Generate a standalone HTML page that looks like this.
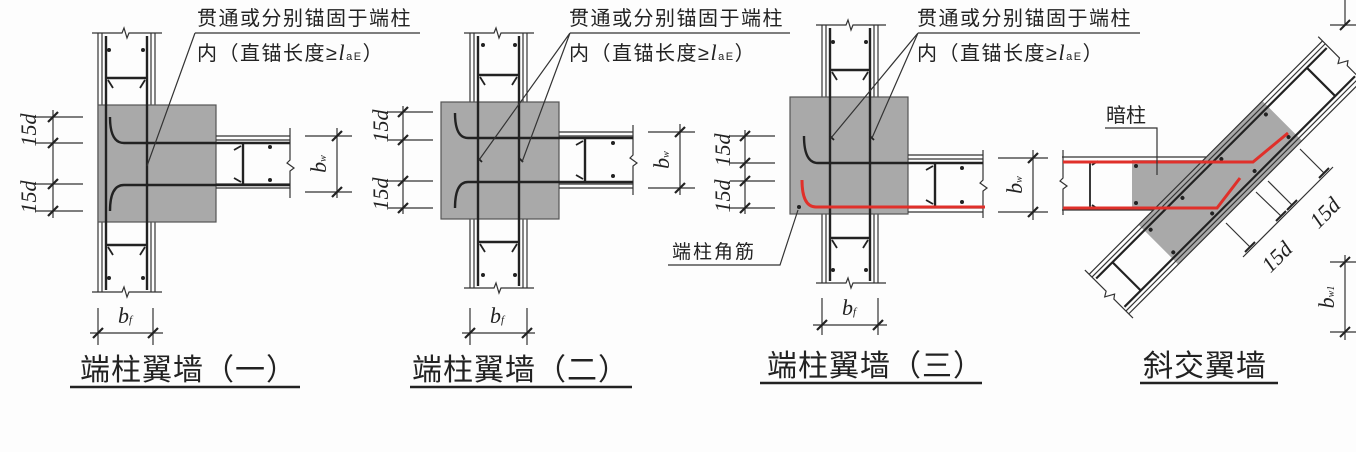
<!DOCTYPE html>
<html><head><meta charset="utf-8"><style>
html,body{margin:0;padding:0;background:#fff}
svg{display:block}
.t{font-family:"Liberation Sans","Noto Sans CJK SC",sans-serif;fill:#222}
.i{font-family:"Liberation Serif",serif;font-style:italic;fill:#222}
</style></head><body>
<svg width="1356" height="452" viewBox="0 0 1356 452" xmlns="http://www.w3.org/2000/svg">
<rect width="1356" height="452" fill="#fdfdfd"/>
<g stroke="#333" fill="none" stroke-width="1.2">

<!-- ========== D1 ========== -->
<g>
<line x1="98" y1="33" x2="98" y2="292"/><line x1="102" y1="33" x2="102" y2="292"/>
<line x1="151" y1="33" x2="151" y2="292"/><line x1="155" y1="33" x2="155" y2="292"/>
<polyline points="92,33 122,33 124,28 127,38 129,33 162,33"/>
<polyline points="92,292 122,292 124,287 127,297 129,292 162,292"/>
<rect x="98" y="105" width="118" height="117" fill="#a9a9a9" stroke="#555"/>
<line x1="216" y1="136" x2="290" y2="136"/><line x1="216" y1="140" x2="290" y2="140"/>
<line x1="216" y1="184" x2="290" y2="184"/><line x1="216" y1="188" x2="290" y2="188"/>
<polyline points="290,128 290,160 287,163 294,168 290,171 290,198"/>
<g stroke="#222" stroke-width="2.4">
<line x1="106" y1="36" x2="106" y2="290"/><line x1="147" y1="36" x2="147" y2="290"/>
<path d="M110,117 Q110,143 124,143 L290,143"/><path d="M110,211 Q110,185 124,185 L290,185"/>
<line x1="106" y1="78" x2="147" y2="78"/><line x1="106" y1="245" x2="147" y2="245"/>
<line x1="243" y1="143" x2="243" y2="185"/>
</g>
<g stroke="#222" stroke-width="1.8">
<path d="M108,80 l5,8 M145,80 l-5,8 M108,247 l5,8 M145,247 l-5,8 M241,146 l-7,4 M241,182 l-7,-4"/>
</g>
<g fill="#222" stroke="none"><circle cx="109" cy="50" r="2"/><circle cx="143" cy="50" r="2"/><circle cx="109" cy="278" r="2"/><circle cx="143" cy="278" r="2"/><circle cx="270" cy="147" r="2"/><circle cx="270" cy="180" r="2"/></g>
<!-- dims -->
<path d="M53,110 V218 M35,117 H83 M35,143 H83 M35,184 H83 M35,211 H83"/>
<path d="M48,122 l10,-10 M48,148 l10,-10 M48,189 l10,-10 M48,216 l10,-10" stroke-width="2.2" stroke="#222"/>
<path d="M337,128 V198 M305,136 H352 M305,192 H352"/>
<path d="M332,141 l10,-10 M332,197 l10,-10" stroke-width="2.2" stroke="#222"/>
<path d="M90,333 H163 M98,308 V345 M153,308 V345"/>
<path d="M93,338 l10,-10 M148,338 l10,-10" stroke-width="2.2" stroke="#222"/>
<path d="M195,33 H420 M195,33 L147,166"/>
<path d="M70,387 H300" stroke="#222" stroke-width="2.5"/>
</g>

<!-- ========== D2 ========== -->
<g>
<line x1="470" y1="33" x2="470" y2="288"/><line x1="474" y1="33" x2="474" y2="288"/>
<line x1="523" y1="33" x2="523" y2="288"/><line x1="527" y1="33" x2="527" y2="288"/>
<polyline points="464,33 494,33 496,28 499,38 501,33 534,33"/>
<polyline points="464,288 494,288 496,283 499,293 501,288 534,288"/>
<rect x="441" y="102" width="118" height="117" fill="#a9a9a9" stroke="#555"/>
<line x1="559" y1="132" x2="633" y2="132"/><line x1="559" y1="136" x2="633" y2="136"/>
<line x1="559" y1="184" x2="633" y2="184"/><line x1="559" y1="188" x2="633" y2="188"/>
<polyline points="633,125 633,155 630,158 637,163 633,166 633,195"/>
<g stroke="#222" stroke-width="2.4">
<line x1="478" y1="36" x2="478" y2="286"/><line x1="519" y1="36" x2="519" y2="286"/>
<path d="M455,113 Q455,138 468,138 L633,138"/><path d="M455,208 Q455,182 468,182 L633,182"/>
<line x1="478" y1="75" x2="519" y2="75"/><line x1="478" y1="242" x2="519" y2="242"/>
<line x1="585" y1="138" x2="585" y2="182"/>
</g>
<g stroke="#222" stroke-width="1.8">
<path d="M480,77 l5,8 M517,77 l-5,8 M480,244 l5,8 M517,244 l-5,8 M583,141 l-7,4 M583,179 l-7,-4 M478,158 l4,4 M519,158 l4,4"/>
</g>
<g fill="#222" stroke="none"><circle cx="483" cy="45" r="2"/><circle cx="515" cy="45" r="2"/><circle cx="483" cy="275" r="2"/><circle cx="515" cy="275" r="2"/><circle cx="613" cy="143" r="2"/><circle cx="613" cy="176" r="2"/></g>
<path d="M403,106 V214 M388,112 H433 M388,140 H433 M388,181 H433 M388,208 H433"/>
<path d="M398,117 l10,-10 M398,145 l10,-10 M398,186 l10,-10 M398,213 l10,-10" stroke-width="2.2" stroke="#222"/>
<path d="M680,124 V195 M648,132 H695 M648,188 H695"/>
<path d="M675,137 l10,-10 M675,193 l10,-10" stroke-width="2.2" stroke="#222"/>
<path d="M462,333 H535 M470,308 V345 M527,308 V345"/>
<path d="M465,338 l10,-10 M522,338 l10,-10" stroke-width="2.2" stroke="#222"/>
<path d="M570,33 H790 M570,33 L479,160 M570,33 L522,162"/>
<path d="M410,387 H632" stroke="#222" stroke-width="2.5"/>
</g>

<!-- ========== D3 ========== -->
<g>
<line x1="822" y1="25" x2="822" y2="283"/><line x1="826" y1="25" x2="826" y2="283"/>
<line x1="874" y1="25" x2="874" y2="283"/><line x1="878" y1="25" x2="878" y2="283"/>
<polyline points="816,25 846,25 848,20 851,30 853,25 886,25"/>
<polyline points="816,283 846,283 848,278 851,288 853,283 886,283"/>
<rect x="790" y="97" width="118" height="117" fill="#a9a9a9" stroke="#555"/>
<line x1="908" y1="155" x2="983" y2="155"/><line x1="908" y1="159" x2="983" y2="159"/>
<line x1="908" y1="208" x2="983" y2="208"/><line x1="908" y1="212" x2="983" y2="212"/>
<polyline points="983,150 983,180 980,183 987,188 983,191 983,218"/>
<g stroke="#222" stroke-width="2.4">
<line x1="830" y1="28" x2="830" y2="281"/><line x1="870" y1="28" x2="870" y2="281"/>
<path d="M804,136 Q804,163 818,163 L983,163"/>
<line x1="830" y1="70" x2="870" y2="70"/><line x1="830" y1="238" x2="870" y2="238"/>
<line x1="935" y1="163" x2="935" y2="207"/>
</g>
<path d="M802,180 Q802,207 816,207 L985,207" stroke="#e0302a" stroke-width="3"/>
<g stroke="#222" stroke-width="1.8">
<path d="M832,72 l5,8 M868,72 l-5,8 M832,240 l5,8 M868,240 l-5,8 M933,166 l-7,4 M933,204 l-7,-4 M830,136 l4,4 M870,136 l4,4"/>
</g>
<g fill="#222" stroke="none"><circle cx="833" cy="42" r="2"/><circle cx="866" cy="42" r="2"/><circle cx="833" cy="270" r="2"/><circle cx="866" cy="270" r="2"/><circle cx="962" cy="168" r="2"/><circle cx="962" cy="202" r="2"/><circle cx="799" cy="207" r="2"/></g>
<path d="M745,130 V214 M730,136 H775 M730,163 H775 M730,181 H775 M730,208 H775"/>
<path d="M740,141 l10,-10 M740,168 l10,-10 M740,186 l10,-10 M740,213 l10,-10" stroke-width="2.2" stroke="#222"/>
<path d="M1033,150 V220 M998,158 H1048 M998,212 H1048"/>
<path d="M1028,163 l10,-10 M1028,217 l10,-10" stroke-width="2.2" stroke="#222"/>
<path d="M813,325 H887 M822,298 V335 M878,298 V335"/>
<path d="M817,330 l10,-10 M873,330 l10,-10" stroke-width="2.2" stroke="#222"/>
<path d="M918,33 H1140 M918,33 L831,138 M918,33 L872,138"/>
<path d="M668,265 H780 L798,210"/>
<path d="M760,383 H982" stroke="#222" stroke-width="2.5"/>
</g>

<!-- ========== D4 ========== -->
<g>
<polygon points="1132,160 1203,160 1155,208 1132,208" fill="#a9a9a9" stroke="none"/>
<line x1="1062" y1="157" x2="1206" y2="157"/><line x1="1062" y1="210" x2="1153" y2="210"/>
<polyline points="1063,150 1063,178 1060,181 1067,186 1063,189 1063,215"/>
<g transform="translate(1215,188) rotate(-45)">
<rect x="-80" y="-28" width="175" height="56" fill="#a9a9a9" stroke="none"/>
<line x1="-150" y1="-28" x2="180" y2="-28"/><line x1="-150" y1="-24" x2="180" y2="-24"/>
<line x1="-150" y1="24" x2="180" y2="24"/><line x1="-150" y1="28" x2="180" y2="28"/>
<polyline points="-150,-34 -150,-4 -155,-1 -146,4 -150,7 -150,34"/>
<polyline points="180,-34 180,-4 175,-1 184,4 180,7 180,34"/>
<g stroke="#222" stroke-width="2.2">
<line x1="-148" y1="-20" x2="178" y2="-20"/><line x1="-148" y1="20" x2="178" y2="20"/>
<line x1="-125" y1="-20" x2="-125" y2="20"/><line x1="150" y1="-20" x2="150" y2="20"/>
</g>
<g fill="#222" stroke="none"><circle cx="-75" cy="-16" r="2"/><circle cx="-30" cy="-16" r="2"/><circle cx="25" cy="-16" r="2"/><circle cx="88" cy="-16" r="2"/><circle cx="-75" cy="16" r="2"/><circle cx="-20" cy="16" r="2"/><circle cx="40" cy="16" r="2"/><circle cx="88" cy="16" r="2"/></g>
</g>
<g stroke="#222" stroke-width="1.8"><line x1="1090" y1="162" x2="1090" y2="208"/><path d="M1092,165 l6,-4 M1092,205 l6,4"/></g>
<g fill="#222" stroke="none"><circle cx="1136" cy="166" r="2"/><circle cx="1136" cy="203" r="2"/></g>
<path d="M1063,162 L1253,162 L1288,133" stroke="#e0302a" stroke-width="3"/>
<path d="M1063,208 L1217,208 L1240,178" stroke="#e0302a" stroke-width="3"/>
<path d="M1105,128 H1157 V175"/>
<path d="M1243,257 L1333,167 M1250,247 L1226,223 M1281,216 L1256,192 M1292,205 L1268,181 M1324,173 L1300,149"/>
<path d="M1245,252 l10,-10 M1276,221 l10,-10 M1287,210 l10,-10 M1319,178 l10,-10" stroke="#222" stroke-width="2"/>
<path d="M1345,255 V340 M1330,262 H1356 M1330,332 H1356 M1345,0 V25 M1330,25 H1356"/>
<path d="M1340,267 l10,-10 M1340,337 l10,-10 M1340,30 l10,-10" stroke="#222" stroke-width="2"/>
<path d="M1140,383 H1278" stroke="#222" stroke-width="2.5"/>
</g>
</g>

<!-- ========== TEXT ========== -->
<g class="t">
<text x="197" y="25" font-size="20" letter-spacing="1.5">贯通或分别锚固于端柱</text>
<text x="197" y="60" font-size="20" letter-spacing="1.5">内（直锚长度≥<tspan class="i" font-size="22">l</tspan><tspan font-size="11">aE</tspan>）</text>
<text x="569" y="25" font-size="20" letter-spacing="1.5">贯通或分别锚固于端柱</text>
<text x="569" y="60" font-size="20" letter-spacing="1.5">内（直锚长度≥<tspan class="i" font-size="22">l</tspan><tspan font-size="11">aE</tspan>）</text>
<text x="917" y="25" font-size="20" letter-spacing="1.5">贯通或分别锚固于端柱</text>
<text x="917" y="60" font-size="20" letter-spacing="1.5">内（直锚长度≥<tspan class="i" font-size="22">l</tspan><tspan font-size="11">aE</tspan>）</text>
<text x="672" y="258" font-size="19" letter-spacing="2">端柱角筋</text>
<text x="1106" y="122" font-size="20">暗柱</text>
<text x="80" y="380" font-size="30" letter-spacing="1">端柱翼墙（一）</text>
<text x="412" y="380" font-size="30" letter-spacing="1">端柱翼墙（二）</text>
<text x="767" y="376" font-size="30" letter-spacing="1">端柱翼墙（三）</text>
<text x="1143" y="376" font-size="30" letter-spacing="1">斜交翼墙</text>
</g>
<g class="i" font-size="22">
<text transform="translate(36,130) rotate(-90)" text-anchor="middle">15<tspan>d</tspan></text>
<text transform="translate(36,197) rotate(-90)" text-anchor="middle">15d</text>
<text transform="translate(388,126) rotate(-90)" text-anchor="middle">15d</text>
<text transform="translate(388,194) rotate(-90)" text-anchor="middle">15d</text>
<text transform="translate(730,150) rotate(-90)" text-anchor="middle">15d</text>
<text transform="translate(730,196) rotate(-90)" text-anchor="middle">15d</text>
<text transform="translate(326,164) rotate(-90)" text-anchor="middle">b<tspan font-size="10">w</tspan></text>
<text transform="translate(669,160) rotate(-90)" text-anchor="middle">b<tspan font-size="10">w</tspan></text>
<text transform="translate(1022,185) rotate(-90)" text-anchor="middle">b<tspan font-size="10">w</tspan></text>
<text transform="translate(1334,297) rotate(-90)" text-anchor="middle">b<tspan font-size="10">w1</tspan></text>
<text x="118" y="323">b<tspan font-size="11">f</tspan></text>
<text x="490" y="323">b<tspan font-size="11">f</tspan></text>
<text x="842" y="315">b<tspan font-size="11">f</tspan></text>
<text transform="translate(1282,262) rotate(-45)" text-anchor="middle">15d</text>
<text transform="translate(1330,218) rotate(-45)" text-anchor="middle">15d</text>
</g>
</svg>
</body></html>
